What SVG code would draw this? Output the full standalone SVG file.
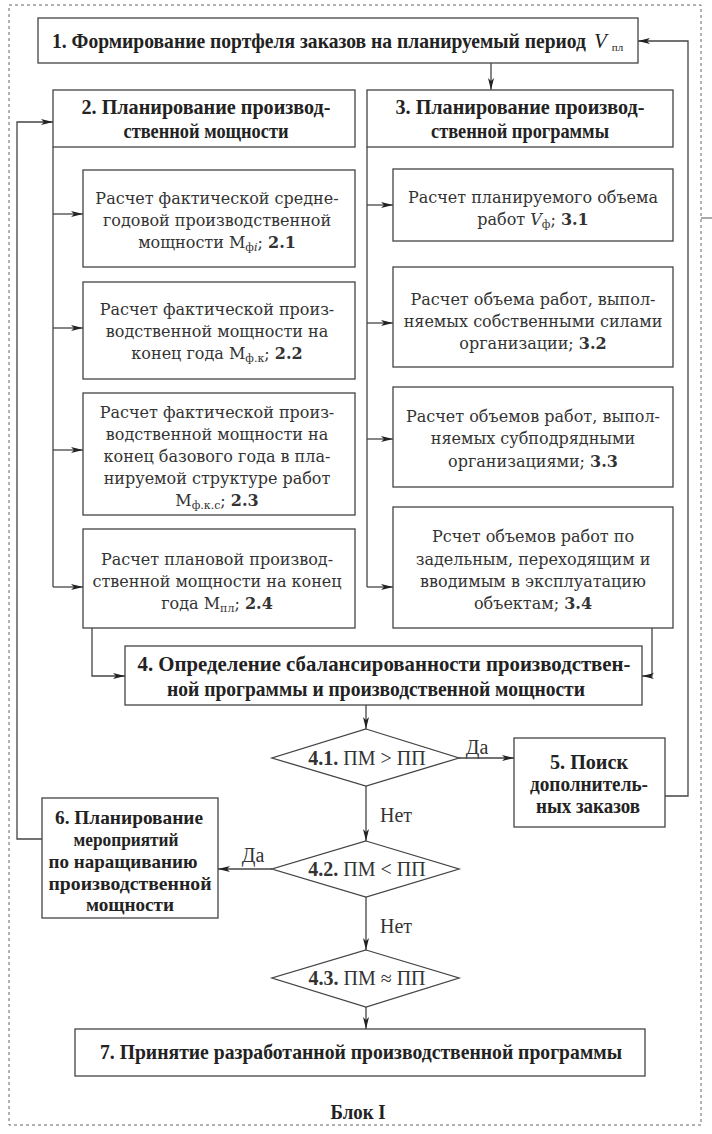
<svg xmlns="http://www.w3.org/2000/svg" width="712" height="1134" viewBox="0 0 712 1134">
<defs>
<marker id="ah" viewBox="0 0 12 6" refX="12" refY="3" markerWidth="12" markerHeight="6" markerUnits="userSpaceOnUse" orient="auto">
<path d="M0,0 L12,3 L0,6 L3,3 Z" fill="#222"/>
</marker>
<style>
.box{fill:#fff;stroke:#444;stroke-width:1.3}
.ln{fill:none;stroke:#444;stroke-width:1.3}
.ar{fill:none;stroke:#444;stroke-width:1.3;marker-end:url(#ah)}
.h{font-family:"Liberation Serif",serif;font-weight:bold;font-size:21px;fill:#222;text-anchor:middle}
.h6{font-size:19px}
.t{font-family:"DejaVu Serif","Liberation Serif",serif;font-size:16px;fill:#333;text-anchor:middle}
.c{font-family:"Liberation Serif",serif;font-size:20px;fill:#333;text-anchor:middle}
.b{font-weight:bold}
.sub{font-size:11px}
</style>
</defs>
<rect x="9" y="5" width="692" height="1120" fill="none" stroke="#666" stroke-width="1" stroke-dasharray="3,3"/>
<line x1="701" y1="218" x2="712" y2="218" stroke="#555" stroke-width="1"/>

<g id="connectors">
<line class="ar" x1="491" y1="63" x2="491" y2="90"/>
<polyline class="ln" points="53,147 53,587"/>
<line class="ar" x1="53" y1="214" x2="83" y2="214"/>
<line class="ar" x1="53" y1="328" x2="83" y2="328"/>
<line class="ar" x1="53" y1="450" x2="83" y2="450"/>
<line class="ar" x1="53" y1="587" x2="83" y2="587"/>
<polyline class="ln" points="367,147 367,587"/>
<line class="ar" x1="367" y1="205" x2="393" y2="205"/>
<line class="ar" x1="367" y1="323" x2="393" y2="323"/>
<line class="ar" x1="367" y1="439" x2="393" y2="439"/>
<line class="ar" x1="367" y1="587" x2="393" y2="587"/>
<polyline class="ar" points="92,628 92,676 125,676"/>
<polyline class="ar" points="652,628 652,676 642,676"/>
<line class="ar" x1="366" y1="705" x2="366" y2="729"/>
<line class="ar" x1="459" y1="758" x2="514" y2="758"/>
<polyline class="ar" points="665,796 688,796 688,41 638,41"/>
<line class="ar" x1="366" y1="786" x2="366" y2="841"/>
<line class="ar" x1="272" y1="869" x2="218" y2="869"/>
<polyline class="ar" points="42,839 17,839 17,122 53,122"/>
<line class="ar" x1="366" y1="897" x2="366" y2="950"/>
<line class="ar" x1="366" y1="1007" x2="366" y2="1029"/>
<text class="c" x="477" y="754">Да</text>
<text class="c" x="396" y="822">Нет</text>
<text class="c" x="253" y="862">Да</text>
<text class="c" x="396" y="933">Нет</text>
</g>

<g id="n1">
<rect class="box" x="38" y="18" width="600" height="45"/>
<text class="h" x="319" y="48" textLength="534" lengthAdjust="spacingAndGlyphs">1. Формирование портфеля заказов на планируемый период</text>
<text class="h" x="594" y="48" style="font-weight:normal;font-style:italic;text-anchor:start">V<tspan dx="5" dy="3" style="font-style:normal;font-size:11px">пл</tspan></text>
</g>
<g id="n2">
<rect class="box" x="53" y="90" width="302" height="57"/>
<text class="h" x="206" y="114" textLength="249" lengthAdjust="spacingAndGlyphs">2. Планирование производ-</text>
<text class="h" x="206" y="138" textLength="165" lengthAdjust="spacingAndGlyphs">ственной мощности</text>
</g>
<g id="n3">
<rect class="box" x="367" y="90" width="306" height="57"/>
<text class="h" x="520" y="114" textLength="249" lengthAdjust="spacingAndGlyphs">3. Планирование производ-</text>
<text class="h" x="520" y="138" textLength="178" lengthAdjust="spacingAndGlyphs">ственной программы</text>
</g>
<g id="n21">
<rect class="box" x="83" y="170" width="272" height="97"/>
<text class="t" x="217" y="204">Расчет фактической средне-</text>
<text class="t" x="217" y="226">годовой производственной</text>
<text class="t" x="217" y="248">мощности М<tspan class="sub" dy="3">ф<tspan font-style="italic">i</tspan></tspan><tspan dy="-3">; </tspan><tspan class="b">2.1</tspan></text>
</g>
<g id="n22">
<rect class="box" x="83" y="282" width="272" height="97"/>
<text class="t" x="217" y="315">Расчет фактической произ-</text>
<text class="t" x="217" y="337">водственной мощности на</text>
<text class="t" x="217" y="359">конец года М<tspan class="sub" dy="3">ф.к</tspan><tspan dy="-3">; </tspan><tspan class="b">2.2</tspan></text>
</g>
<g id="n23">
<rect class="box" x="83" y="393" width="272" height="122"/>
<text class="t" x="217" y="418">Расчет фактической произ-</text>
<text class="t" x="217" y="440">водственной мощности на</text>
<text class="t" x="217" y="462">конец базового года в пла-</text>
<text class="t" x="217" y="484">нируемой структуре работ</text>
<text class="t" x="217" y="506">М<tspan class="sub" dy="3">ф.к.с</tspan><tspan dy="-3">; </tspan><tspan class="b">2.3</tspan></text>
</g>
<g id="n24">
<rect class="box" x="83" y="529" width="272" height="99"/>
<text class="t" x="217" y="565">Расчет плановой производ-</text>
<text class="t" x="217" y="587">ственной мощности на конец</text>
<text class="t" x="217" y="609">года М<tspan class="sub" dy="3">пл</tspan><tspan dy="-3">; </tspan><tspan class="b">2.4</tspan></text>
</g>
<g id="n31">
<rect class="box" x="393" y="169" width="280" height="72"/>
<text class="t" x="533" y="203">Расчет планируемого объема</text>
<text class="t" x="533" y="225">работ <tspan font-style="italic">V</tspan><tspan class="sub" dy="3">ф</tspan><tspan dy="-3">; </tspan><tspan class="b">3.1</tspan></text>
</g>
<g id="n32">
<rect class="box" x="393" y="267" width="280" height="100"/>
<text class="t" x="533" y="305">Расчет объема работ, выпол-</text>
<text class="t" x="533" y="327">няемых собственными силами</text>
<text class="t" x="533" y="349">организации; <tspan class="b">3.2</tspan></text>
</g>
<g id="n33">
<rect class="box" x="393" y="387" width="280" height="100"/>
<text class="t" x="533" y="422">Расчет объемов работ, выпол-</text>
<text class="t" x="533" y="444">няемых субподрядными</text>
<text class="t" x="533" y="467">организациями; <tspan class="b">3.3</tspan></text>
</g>
<g id="n34">
<rect class="box" x="393" y="507" width="280" height="121"/>
<text class="t" x="533" y="542">Рсчет объемов работ по</text>
<text class="t" x="533" y="565">задельным, переходящим и</text>
<text class="t" x="533" y="587">вводимым в эксплуатацию</text>
<text class="t" x="533" y="609">объектам; <tspan class="b">3.4</tspan></text>
</g>
<g id="n4">
<rect class="box" x="125" y="646" width="517" height="59"/>
<text class="h" x="384" y="671" textLength="493" lengthAdjust="spacingAndGlyphs">4. Определение сбалансированности производствен-</text>
<text class="h" x="376" y="696" textLength="418" lengthAdjust="spacingAndGlyphs">ной программы и производственной мощности</text>
</g>
<g id="n41">
<polygon class="box" points="366,729 459,758 366,786 272,758"/>
<text class="c" x="367" y="765"><tspan class="b">4.1.</tspan> ПМ &gt; ПП</text>
</g>
<g id="n5">
<rect class="box" x="514" y="738" width="151" height="89"/>
<text class="h" x="589" y="769" textLength="78" lengthAdjust="spacingAndGlyphs">5. Поиск</text>
<text class="h" x="589" y="791" textLength="118" lengthAdjust="spacingAndGlyphs">дополнитель-</text>
<text class="h" x="588" y="813" textLength="104" lengthAdjust="spacingAndGlyphs">ных заказов</text>
</g>
<g id="n42">
<polygon class="box" points="366,841 459,869 366,897 272,869"/>
<text class="c" x="367" y="876"><tspan class="b">4.2.</tspan> ПМ &lt; ПП</text>
</g>
<g id="n6">
<rect class="box" x="42" y="798" width="176" height="120"/>
<text class="h h6" x="129" y="824" textLength="148" lengthAdjust="spacingAndGlyphs">6. Планирование</text>
<text class="h h6" x="126" y="846" textLength="105" lengthAdjust="spacingAndGlyphs">мероприятий</text>
<text class="h h6" x="123" y="868" textLength="149" lengthAdjust="spacingAndGlyphs">по наращиванию</text>
<text class="h h6" x="130" y="890" textLength="163" lengthAdjust="spacingAndGlyphs">производственной</text>
<text class="h h6" x="130" y="911" textLength="88" lengthAdjust="spacingAndGlyphs">мощности</text>
</g>
<g id="n43">
<polygon class="box" points="366,950 459,978 366,1007 272,978"/>
<text class="c" x="367" y="985"><tspan class="b">4.3.</tspan> ПМ ≈ ПП</text>
</g>
<g id="n7">
<rect class="box" x="75" y="1029" width="570" height="47"/>
<text class="h" x="361" y="1059" textLength="522" lengthAdjust="spacingAndGlyphs">7. Принятие разработанной производственной программы</text>
</g>
<text class="h" x="358" y="1119" textLength="55" lengthAdjust="spacingAndGlyphs">Блок I</text>
</svg>
